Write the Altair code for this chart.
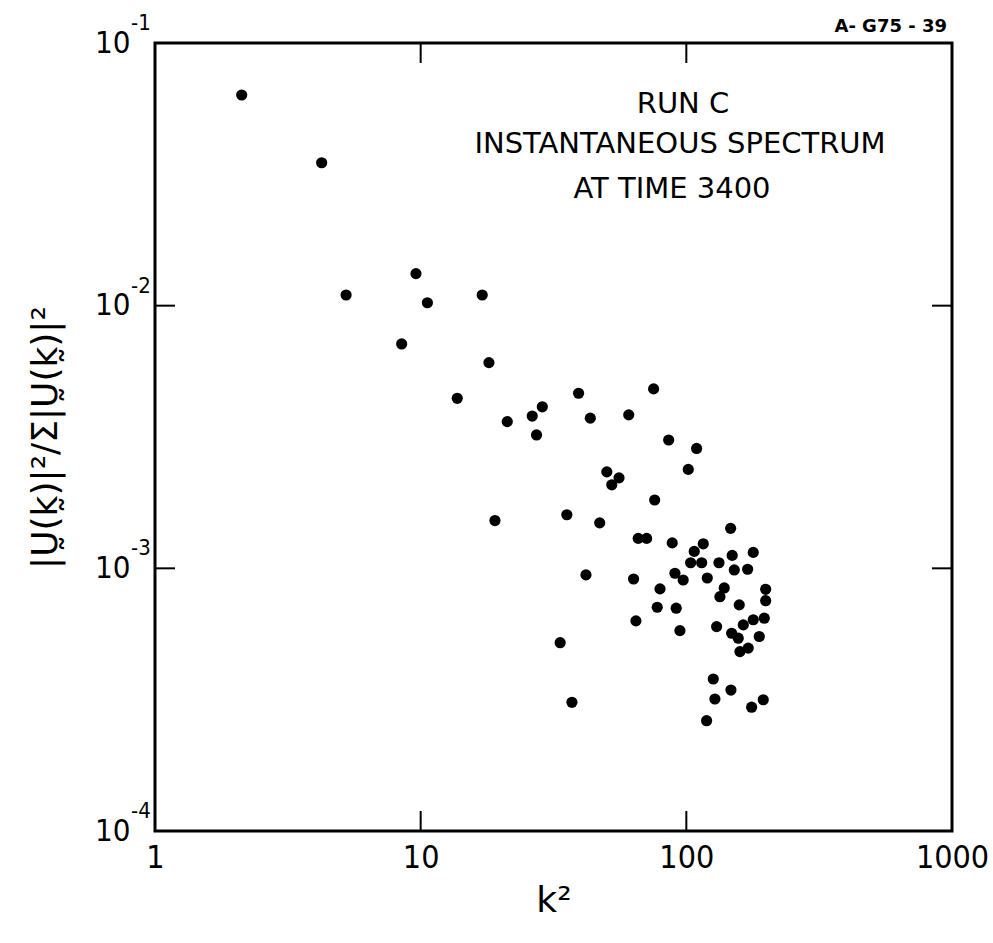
import altair as alt
import pandas as pd

# k^2 values and normalized spectrum |U(k)|^2 / sum |U(k)|^2
k2 = [2.12, 4.24, 5.24, 9.60, 10.6, 17.05, 8.48,
      18.07, 13.73, 21.18, 26.3, 28.7, 27.3, 39.3, 43.5, 75.3, 60.7, 85.8, 109.3, 101.7,
      50.2, 52.4, 55.8, 76.0, 19.04, 35.5, 47.2, 65.9, 70.9, 88.5, 146.8, 115.8, 107.1,
      103.8, 114.2, 132.7, 148.8, 178.6, 151.5, 170.1, 41.9, 63.3, 90.6, 97.3, 119.9,
      79.6, 138.9, 133.8, 198.9, 198.9, 77.7, 91.6, 158.2, 64.6, 94.6, 130.0,
      148.1, 156.8, 163.8, 178.6, 196.5, 188.2, 159.1, 171.0, 33.5, 126.3, 147.2,
      128.1, 176.1, 194.8, 119.2, 37.1]
spectrum = [0.0634, 0.0350, 0.01098, 0.01324, 0.01026, 0.01098, 0.00715,
            0.00607, 0.00444, 0.00362, 0.00380, 0.00412, 0.00322, 0.00464, 0.00373, 0.00482,
            0.00384, 0.00308, 0.00286, 0.00238,
            0.00233, 0.00208, 0.00221, 0.00182, 0.00152, 0.00160, 0.00149, 0.00130, 0.00130,
            0.00125, 0.00142, 0.00124, 0.00116,
            0.00105, 0.00105, 0.00105, 0.00112, 0.00115, 0.000986, 0.000992, 0.000944,
            0.000911, 0.000958, 0.000903, 0.000919,
            0.000835, 0.000842, 0.000780, 0.000832, 0.000753, 0.000711, 0.000705, 0.000726,
            0.000631, 0.000579, 0.000600,
            0.000566, 0.000542, 0.000609, 0.000637, 0.000646, 0.000550, 0.000482, 0.000497,
            0.000521, 0.000379, 0.000344,
            0.000318, 0.000296, 0.000316, 0.000263, 0.000309]

x_tick_values = [1, 10, 100, 1000]
y_tick_values = [1e-4, 1e-3, 1e-2, 1e-1]
y_tick_base = "10"
y_tick_exponents = ["-4", "-3", "-2", "-1"]
inner_x_ticks = [10, 100]
inner_y_ticks = [1e-2, 1e-3]
note_lines = ["RUN C", "INSTANTANEOUS SPECTRUM", "AT TIME 3400"]
figure_id = "A- G75 - 39"
x_title = "k²"
y_title = "|Ṵ(k̰)|²/Σ|Ṵ(k̰)|²"

W, H = 797, 788
TICK_LEN = 20
FONT = "DejaVu Sans"
NUM_FONT = "'DejaVu Sans Condensed', 'Liberation Sans Narrow', 'DejaVu Sans'"

df = pd.DataFrame({"k2": k2, "frac": spectrum})

x_scale = alt.Scale(type="log", domain=[1, 1000], nice=False)
y_scale = alt.Scale(type="log", domain=[1e-4, 1e-1], nice=False)

points = alt.Chart(df).mark_circle(size=125, color="black", opacity=1).encode(
    x=alt.X("k2:Q", scale=x_scale,
            axis=alt.Axis(values=x_tick_values, format="d", title=x_title,
                          ticks=False, domain=False, grid=False,
                          labelFont=NUM_FONT, labelFontSize=32, labelPadding=11,
                          labelColor="black", labelFlush=False,
                          titleFont=FONT, titleFontSize=36, titleColor="black",
                          titleFontWeight="normal", titleBaseline="alphabetic",
                          titleY=80)),
    y=alt.Y("frac:Q", scale=y_scale,
            axis=alt.Axis(values=y_tick_values, labelExpr=f"'{y_tick_base}'",
                          title=y_title,
                          ticks=False, domain=False, grid=False,
                          labelFont=NUM_FONT, labelFontSize=31, labelPadding=25,
                          labelColor="black", labelFlush=False,
                          titleFont=FONT, titleFontSize=36, titleColor="black",
                          titleFontWeight="normal", titleAngle=-90,
                          titleX=-110, titleY=H / 2, titleAlign="center",
                          titleBaseline="middle")),
)

# exponents of the y tick labels, placed through the y scale
exp_df = pd.DataFrame({"frac": y_tick_values, "e": y_tick_exponents})
exponents = alt.Chart(exp_df).mark_text(
    font=NUM_FONT, fontSize=22, color="black", align="left", baseline="middle", dy=-20
).encode(y=alt.Y("frac:Q", scale=y_scale), x=alt.value(-24), text="e:N")

tx = pd.DataFrame({"k2": inner_x_ticks})
ty = pd.DataFrame({"frac": inner_y_ticks})

bottom_ticks = alt.Chart(tx).mark_rule(color="black", strokeWidth=2).encode(
    x=alt.X("k2:Q", scale=x_scale), y=alt.value(H), y2=alt.value(H - TICK_LEN))
top_ticks = alt.Chart(tx).mark_rule(color="black", strokeWidth=2).encode(
    x=alt.X("k2:Q", scale=x_scale), y=alt.value(0), y2=alt.value(TICK_LEN))
left_ticks = alt.Chart(ty).mark_rule(color="black", strokeWidth=2).encode(
    y=alt.Y("frac:Q", scale=y_scale), x=alt.value(0), x2=alt.value(TICK_LEN))
right_ticks = alt.Chart(ty).mark_rule(color="black", strokeWidth=2).encode(
    y=alt.Y("frac:Q", scale=y_scale), x=alt.value(W), x2=alt.value(W - TICK_LEN))

note_pos = [(528, 70), (525, 110), (517, 155)]
notes = []
for line, (px, py) in zip(note_lines, note_pos):
    notes.append(
        alt.Chart(pd.DataFrame({"t": [line]})).mark_text(
            font=FONT, fontSize=29, color="black", align="center", baseline="alphabetic"
        ).encode(text="t:N", x=alt.value(px), y=alt.value(py))
    )

fig_id = alt.Chart(pd.DataFrame({"t": [figure_id]})).mark_text(
    font=FONT, fontSize=18, fontWeight="bold", color="black", align="right",
    baseline="alphabetic"
).encode(text="t:N", x=alt.value(W - 5), y=alt.value(-11))

chart = alt.layer(points, exponents, bottom_ticks, top_ticks, left_ticks, right_ticks,
                  *notes, fig_id).properties(
    width=W, height=H,
    autosize=alt.AutoSizeParams(type="none"),
    padding={"left": 155, "top": 43, "right": 41, "bottom": 112},
    background="white",
).configure_view(stroke="black", strokeWidth=3)

chart.save("out.html", embed_options={"renderer": "svg", "actions": False})
